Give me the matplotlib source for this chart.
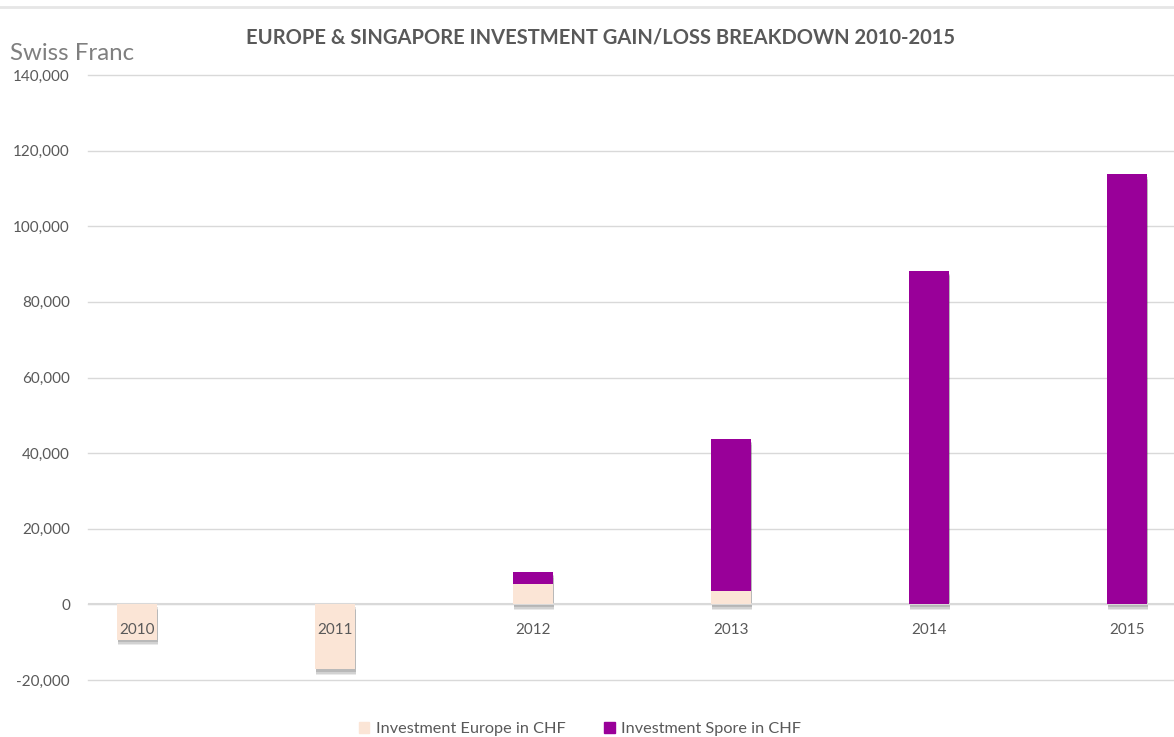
import matplotlib
matplotlib.use("Agg")
import matplotlib.pyplot as plt
import matplotlib.patheffects as pe
from matplotlib.ticker import FuncFormatter, MultipleLocator
from matplotlib.lines import Line2D
from matplotlib.patches import Rectangle

years = ["2010", "2011", "2012", "2013", "2014", "2015"]
europe = [-9300, -17200, 5500, 3500, 0, 0]
spore = [0, 0, 3000, 40200, 88200, 113700]

C_EU = "#FBE5D6"
C_SG = "#990099"
GRAY = "#595959"
GRID = "#D9D9D9"

plt.rcParams["font.family"] = ["Lato", "DejaVu Sans"]

W, H = 1174, 737
fig = plt.figure(figsize=(W / 100, H / 100), dpi=100)
ax = fig.add_axes([88 / W, 1 - 680 / H, (W - 88) / W, (680 - 75) / H])

x = list(range(len(years)))
bw = 0.2

# soft drop shadow behind each whole stack
base = [max(e, 0) for e in europe]
lows = [min(e, 0) for e in europe]
highs = [b + s for b, s in zip(base, spore)]
heights = [h - l for h, l in zip(highs, lows)]
for a, off in [(0.10, 4.0), (0.12, 3.0), (0.15, 2.0)]:
    ax.bar(x, heights, width=bw, bottom=lows, color="white", zorder=2,
           path_effects=[pe.SimplePatchShadow(offset=(0.8, -off), alpha=a, shadow_rgbFace="#303030")])

ax.bar(x, europe, width=bw, color=C_EU, zorder=3)
ax.bar(x, spore, width=bw, bottom=base, color=C_SG, zorder=3)

ax.set_ylim(-20000, 140000)
ax.set_xlim(-0.247, 5.237)
ax.yaxis.set_major_locator(MultipleLocator(20000))
ax.yaxis.set_major_formatter(FuncFormatter(lambda v, p: f"{int(v):,}"))
ax.grid(axis="y", color=GRID, linewidth=1, zorder=0)
for gl in ax.get_ygridlines():
    gl.set_clip_on(False)
ax.axhline(0, color=GRID, linewidth=1.5, zorder=2.5)
for s in ax.spines.values():
    s.set_visible(False)
ax.tick_params(axis="y", length=0, pad=13, labelsize=11, labelcolor=GRAY)
ax.set_xticks([])

for xi, lab in zip(x, years):
    ax.annotate(lab, xy=(xi, 0), xytext=(0, -21.5), textcoords="offset points",
                ha="center", va="baseline", fontsize=11, color=GRAY, zorder=5)

fig.text(600 / W, 1 - 38 / H, "EUROPE & SINGAPORE INVESTMENT GAIN/LOSS BREAKDOWN 2010-2015",
         ha="center", va="center", fontsize=14.5, fontweight="bold", color=GRAY)
fig.text(10 / W, 1 - 53 / H, "Swiss Franc", ha="left", va="center", fontsize=17.3, color="#7F7F7F")

fig.add_artist(Line2D([0, 1], [1 - 7 / H, 1 - 7 / H], color="#E6E6E6", linewidth=2))

fig.legend(handles=[Rectangle((0, 0), 1, 1, color=C_EU), Rectangle((0, 0), 1, 1, color=C_SG)],
           labels=["Investment Europe in CHF", "Investment Spore in CHF"],
           loc="center", bbox_to_anchor=(580 / W, 1 - 729 / H), ncol=2, frameon=False,
           fontsize=11.7, handlelength=0.65, handleheight=0.65, handletextpad=0.4,
           columnspacing=2.4, labelcolor=GRAY)

fig.savefig("out.png", dpi=100)
